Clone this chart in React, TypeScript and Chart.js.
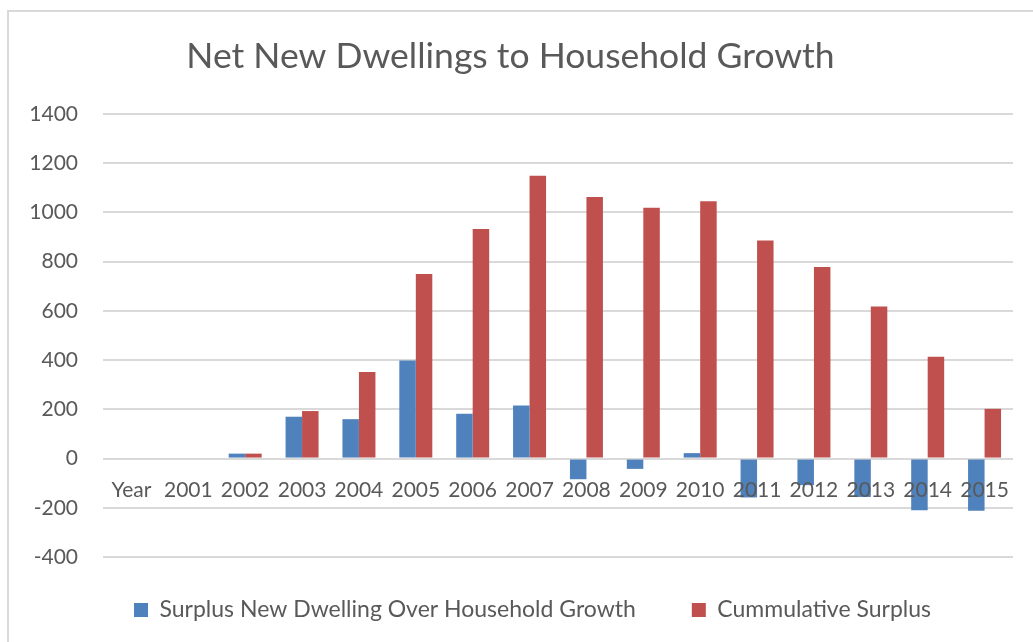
import React, { useEffect, useRef } from "react";
import { Chart, registerables } from "chart.js";

Chart.register(...registerables);

const categories = ["Year", "2001", "2002", "2003", "2004", "2005", "2006", "2007", "2008", "2009", "2010", "2011", "2012", "2013", "2014", "2015"];
const surplusValues = [null, null, 20, 170, 160, 398, 182, 216, -84, -42, 22, -158, -108, -156, -210, -212];
const cumulativeValues = [null, null, 20, 193, 352, 750, 933, 1149, 1063, 1019, 1045, 886, 778, 618, 414, 202];
const yTicks = [-400, -200, 0, 200, 400, 600, 800, 1000, 1200, 1400];

const TEXT = "#595959";
const FONT = "Lato";

const framePlugin = {
  id: "frame",
  beforeDraw(chart: any) {
    const ctx = chart.ctx;
    ctx.save();
    ctx.fillStyle = "#ffffff";
    ctx.fillRect(0, 0, chart.width, chart.height);
    ctx.strokeStyle = "#d9d9d9";
    ctx.lineWidth = 2;
    ctx.beginPath();
    ctx.moveTo(8, chart.height);
    ctx.lineTo(8, 11);
    ctx.lineTo(chart.width, 11);
    ctx.stroke();
    ctx.restore();
  },
};

// nudge the legend row so that it sits where the reference places it
const legendShiftPlugin = {
  id: "legendShift",
  afterLayout(chart: any) {
    const lg = chart.legend;
    if (lg) {
      lg.top -= 14.5;
      lg.bottom -= 14.5;
      lg.left += 22;
      lg.right += 22;
    }
  },
};

export default function App() {
  const ref = useRef<HTMLCanvasElement>(null);
  useEffect(() => {
    document.body.style.margin = "0";
    const chart = new Chart(ref.current!, {
      type: "bar",
      data: {
        labels: categories,
        datasets: [
          {
            label: "Surplus New Dwelling Over Household Growth",
            data: surplusValues,
            backgroundColor: "#4F81BD",
            borderWidth: 0,
            barPercentage: 1,
            categoryPercentage: 0.58,
          },
          {
            label: "Cummulative Surplus",
            data: cumulativeValues,
            backgroundColor: "#C0504D",
            borderWidth: 0,
            barPercentage: 1,
            categoryPercentage: 0.58,
          },
        ],
      },
      options: {
        animation: false,
        responsive: false,
        layout: { padding: { left: 8, right: 20, top: 11, bottom: -4 } },
        plugins: {
          title: {
            display: true,
            text: "Net New Dwellings to Household Growth",
            color: TEXT,
            font: { family: FONT, size: 35.5, weight: "normal" },
            padding: { top: 24.7, bottom: 35.7 },
          },
          legend: {
            position: "bottom",
            labels: {
              color: TEXT,
              font: { family: FONT, size: 23 },
              boxWidth: 14,
              boxHeight: 14,
              padding: 56,
            },
          },
          tooltip: { enabled: false },
        },
        scales: {
          x: {
            position: { y: 0 } as any,
            grid: { display: false, drawTicks: false },
            border: { display: false },
            ticks: {
              z: 1,
              color: TEXT,
              font: { family: FONT, size: 21 },
              padding: 19.5,
              maxRotation: 0,
              autoSkip: false,
            },
          },
          y: {
            min: -400,
            max: 1400,
            afterBuildTicks: (s: any) => {
              s.ticks = yTicks.map((v) => ({ value: v }));
            },
            afterFit: (s: any) => {
              s.width = 95;
            },
            grid: { color: "#d9d9d9", lineWidth: 2, drawTicks: false },
            border: { display: false },
            ticks: {
              color: TEXT,
              font: { family: FONT, size: 21 },
              padding: 25,
              callback: (v: any) => String(v),
            },
          },
        },
      },
      plugins: [framePlugin, legendShiftPlugin],
    });
    return () => chart.destroy();
  }, []);
  return <canvas ref={ref} width={1033} height={642} style={{ display: "block" }} />;
}
